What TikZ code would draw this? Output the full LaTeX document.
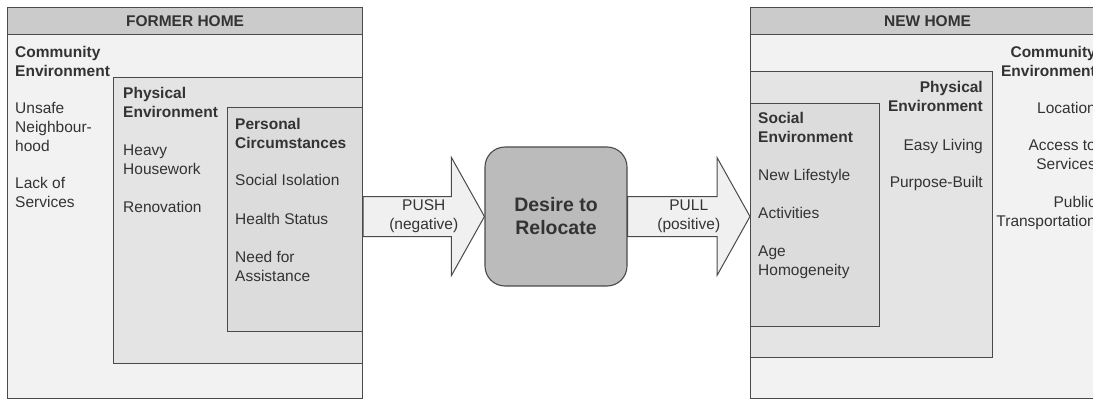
\documentclass[tikz,border=0pt]{standalone}
\usepackage{fontspec}
\setmainfont{Liberation Sans}
\usetikzlibrary{positioning,calc}
\definecolor{linegray}{HTML}{4A4A4A}
\definecolor{textgray}{HTML}{333333}
\definecolor{fillouter}{HTML}{F2F2F2}
\definecolor{filltitle}{HTML}{CBCBCB}
\definecolor{fillphys}{HTML}{E4E4E4}
\definecolor{fillinner}{HTML}{DCDCDC}
\definecolor{filldesire}{HTML}{BBBBBB}
\definecolor{fillarrow}{HTML}{F0F0F0}
\tikzset{
  box/.style={draw=linegray,line width=1.1pt,fill=#1,anchor=north west,inner sep=0pt},
  txt/.style={font=\fontsize{15.5}{18.8}\selectfont,text=textgray,inner sep=0pt,
    anchor=north west,align=left},
  rtxt/.style={txt,anchor=north east,align=right},
  bold/.style={font=\fontsize{15.5}{18.8}\selectfont\bfseries},
  bigarrow/.style={draw=linegray,line width=1pt,fill=fillarrow,line join=miter}
}
\begin{document}
\begin{tikzpicture}[x=1pt,y=-1pt]
  \useasboundingbox (0,0) rectangle (1093,399);
  % former home
  \node[box=fillouter,minimum width=355,minimum height=391] (oldhome) at (7,7) {};
  \node[box=filltitle,minimum width=355,minimum height=27] (oldtitle) at (7,7) {};
  \node[box=fillphys,minimum width=249,minimum height=286] (oldphys) at (113,77) {};
  \node[box=fillinner,minimum width=135,minimum height=224] (oldpers) at (227,107) {};
  \node[txt,bold,anchor=center] at (oldtitle) {FORMER HOME};
  \node[txt,bold] (oldcom) at (15,46) {Community\\Environment};
  \node[txt] (unsafe) at (15,102) {Unsafe\\Neighbour-\\hood};
  \node[txt] (lack) at (15,177) {Lack of\\Services};
  \node[txt,bold] (oldphyst) at (123,87) {Physical\\Environment};
  \node[txt] (heavy) at (123,145) {Heavy\\Housework};
  \node[txt] (renov) at (123,201) {Renovation};
  \node[txt,bold] (perst) at (235,118) {Personal\\Circumstances};
  \node[txt] (isol) at (235,174) {Social Isolation};
  \node[txt] (health) at (235,213) {Health Status};
  \node[txt] (assist) at (235,251) {Need for\\Assistance};
  % new home
  \node[box=fillouter,minimum width=354,minimum height=391] (newhome) at (750,7) {};
  \node[box=filltitle,minimum width=354,minimum height=27] (newtitle) at (750,7) {};
  \node[box=fillphys,minimum width=242,minimum height=286] (newphys) at (750,71) {};
  \node[box=fillinner,minimum width=129,minimum height=223] (newsoc) at (750,103) {};
  \node[txt,bold,anchor=center] at (newtitle) {NEW HOME};
  \node[rtxt,bold] (newcom) at (1096,46) {Community\\Environment};
  \node[rtxt] (locat) at (1096,102) {Location};
  \node[rtxt] (access) at (1096,140) {Access to\\Services};
  \node[rtxt] (public) at (1096,196) {Public\\Transportation};
  \node[rtxt,bold] (newphyst) at (983,81) {Physical\\Environment};
  \node[rtxt] (easy) at (983,139) {Easy Living};
  \node[rtxt] (purpose) at (983,176) {Purpose-Built};
  \node[txt,bold] (socst) at (758,112) {Social\\Environment};
  \node[txt] (life) at (758,169) {New Lifestyle};
  \node[txt] (activ) at (758,207) {Activities};
  \node[txt] (age) at (758,246) {Age\\Homogeneity};
  % desire
  \node[draw=linegray,line width=1.1pt,fill=filldesire,rounded corners=20pt,
    minimum width=142,minimum height=139,text=textgray,align=center,
    font=\fontsize{19.5}{23}\selectfont\bfseries] (desire) at (556,216.5) {Desire to\\Relocate};
  \draw[bigarrow] ($(oldhome.east |- desire.west)+(0,-20)$) -- ($(desire.west)+(-33,-20)$)
    -- ++(0,-39) -- (desire.west) -- ++(-33,59) -- ++(0,-39)
    -- ($(oldhome.east |- desire.west)+(0,20)$) -- cycle;
  \draw[bigarrow] ($(desire.east)+(0,-20)$) -- ($(newhome.west |- desire.east)+(-33,-20)$)
    -- ++(0,-39) -- (newhome.west |- desire.east) -- ++(-33,59) -- ++(0,-39)
    -- ($(desire.east)+(0,20)$) -- cycle;
  \node[txt,anchor=center,align=center] (push) at ($(oldhome.east |- desire.west)!0.5!(desire.west)$) {PUSH\\(negative)};
  \node[txt,anchor=center,align=center] (pull) at ($(desire.east)!0.5!(newhome.west |- desire.east)$) {PULL\\(positive)};
\end{tikzpicture}
\end{document}
